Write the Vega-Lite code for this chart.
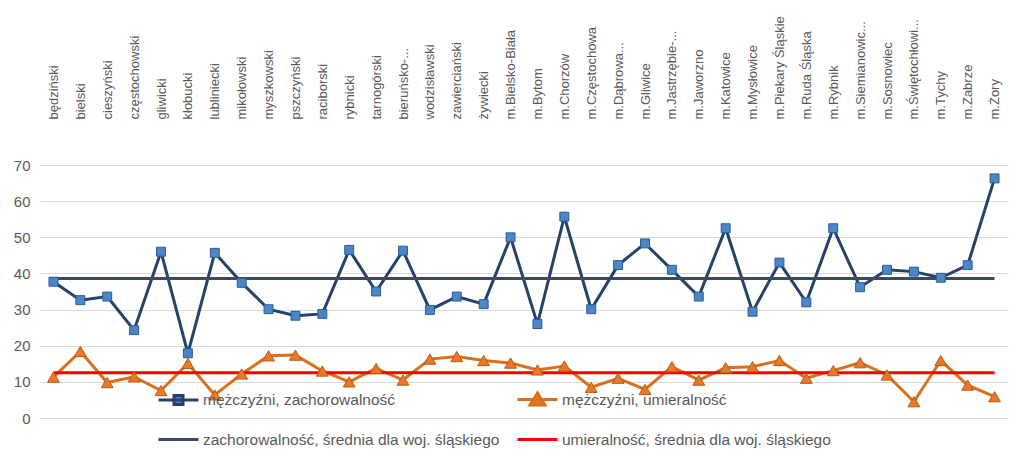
{
  "$schema": "https://vega.github.io/schema/vega-lite/v6.json",
  "width": 968,
  "height": 253,
  "autosize": {"type": "none"},
  "padding": {"left": 40, "top": 165, "right": 16, "bottom": 42},
  "background": "white",
  "config": {
    "view": {"stroke": null},
    "font": "Liberation Sans",
    "axis": {"labelFont": "Liberation Sans", "labelColor": "#595959"},
    "legend": {"labelFont": "Liberation Sans"}
  },
  "data": {
    "values": [
      {"p": "będziński", "s": "mężczyźni, zachorowalność", "v": 37.7},
      {"p": "bielski", "s": "mężczyźni, zachorowalność", "v": 32.6},
      {"p": "cieszyński", "s": "mężczyźni, zachorowalność", "v": 33.6},
      {"p": "częstochowski", "s": "mężczyźni, zachorowalność", "v": 24.3},
      {"p": "gliwicki", "s": "mężczyźni, zachorowalność", "v": 46.0},
      {"p": "kłobucki", "s": "mężczyźni, zachorowalność", "v": 17.9},
      {"p": "lubliniecki", "s": "mężczyźni, zachorowalność", "v": 45.7},
      {"p": "mikołowski", "s": "mężczyźni, zachorowalność", "v": 37.4},
      {"p": "myszkowski", "s": "mężczyźni, zachorowalność", "v": 30.1},
      {"p": "pszczyński", "s": "mężczyźni, zachorowalność", "v": 28.3},
      {"p": "raciborski", "s": "mężczyźni, zachorowalność", "v": 28.8},
      {"p": "rybnicki", "s": "mężczyźni, zachorowalność", "v": 46.5},
      {"p": "tarnogórski", "s": "mężczyźni, zachorowalność", "v": 35.0},
      {"p": "bieruńsko-...", "s": "mężczyźni, zachorowalność", "v": 46.3},
      {"p": "wodzisławski", "s": "mężczyźni, zachorowalność", "v": 29.9},
      {"p": "zawierciański", "s": "mężczyźni, zachorowalność", "v": 33.6},
      {"p": "żywiecki", "s": "mężczyźni, zachorowalność", "v": 31.5},
      {"p": "m.Bielsko-Biała", "s": "mężczyźni, zachorowalność", "v": 50.0},
      {"p": "m.Bytom", "s": "mężczyźni, zachorowalność", "v": 26.0},
      {"p": "m.Chorzów", "s": "mężczyźni, zachorowalność", "v": 55.7},
      {"p": "m.Częstochowa", "s": "mężczyźni, zachorowalność", "v": 30.1},
      {"p": "m.Dąbrowa...", "s": "mężczyźni, zachorowalność", "v": 42.3},
      {"p": "m.Gliwice", "s": "mężczyźni, zachorowalność", "v": 48.3},
      {"p": "m.Jastrzębie-...", "s": "mężczyźni, zachorowalność", "v": 41.0},
      {"p": "m.Jaworzno", "s": "mężczyźni, zachorowalność", "v": 33.6},
      {"p": "m.Katowice", "s": "mężczyźni, zachorowalność", "v": 52.5},
      {"p": "m.Mysłowice", "s": "mężczyźni, zachorowalność", "v": 29.4},
      {"p": "m.Piekary Śląskie", "s": "mężczyźni, zachorowalność", "v": 43.0},
      {"p": "m.Ruda Śląska", "s": "mężczyźni, zachorowalność", "v": 32.0},
      {"p": "m.Rybnik", "s": "mężczyźni, zachorowalność", "v": 52.5},
      {"p": "m.Siemianowic...", "s": "mężczyźni, zachorowalność", "v": 36.2},
      {"p": "m.Sosnowiec", "s": "mężczyźni, zachorowalność", "v": 41.0},
      {"p": "m.Świętochłowi...", "s": "mężczyźni, zachorowalność", "v": 40.5},
      {"p": "m.Tychy", "s": "mężczyźni, zachorowalność", "v": 38.8},
      {"p": "m.Zabrze", "s": "mężczyźni, zachorowalność", "v": 42.3},
      {"p": "m.Żory", "s": "mężczyźni, zachorowalność", "v": 66.3},
      {"p": "będziński", "s": "mężczyźni, umieralność", "v": 11.3},
      {"p": "bielski", "s": "mężczyźni, umieralność", "v": 18.4},
      {"p": "cieszyński", "s": "mężczyźni, umieralność", "v": 9.8},
      {"p": "częstochowski", "s": "mężczyźni, umieralność", "v": 11.4},
      {"p": "gliwicki", "s": "mężczyźni, umieralność", "v": 7.6},
      {"p": "kłobucki", "s": "mężczyźni, umieralność", "v": 15.1},
      {"p": "lubliniecki", "s": "mężczyźni, umieralność", "v": 6.4},
      {"p": "mikołowski", "s": "mężczyźni, umieralność", "v": 12.2},
      {"p": "myszkowski", "s": "mężczyźni, umieralność", "v": 17.2},
      {"p": "pszczyński", "s": "mężczyźni, umieralność", "v": 17.4},
      {"p": "raciborski", "s": "mężczyźni, umieralność", "v": 13.0},
      {"p": "rybnicki", "s": "mężczyźni, umieralność", "v": 10.0},
      {"p": "tarnogórski", "s": "mężczyźni, umieralność", "v": 13.7},
      {"p": "bieruńsko-...", "s": "mężczyźni, umieralność", "v": 10.5},
      {"p": "wodzisławski", "s": "mężczyźni, umieralność", "v": 16.3},
      {"p": "zawierciański", "s": "mężczyźni, umieralność", "v": 17.0},
      {"p": "żywiecki", "s": "mężczyźni, umieralność", "v": 15.9},
      {"p": "m.Bielsko-Biała", "s": "mężczyźni, umieralność", "v": 15.2},
      {"p": "m.Bytom", "s": "mężczyźni, umieralność", "v": 13.3},
      {"p": "m.Chorzów", "s": "mężczyźni, umieralność", "v": 14.4},
      {"p": "m.Częstochowa", "s": "mężczyźni, umieralność", "v": 8.5},
      {"p": "m.Dąbrowa...", "s": "mężczyźni, umieralność", "v": 11.0},
      {"p": "m.Gliwice", "s": "mężczyźni, umieralność", "v": 7.9},
      {"p": "m.Jastrzębie-...", "s": "mężczyźni, umieralność", "v": 14.2},
      {"p": "m.Jaworzno", "s": "mężczyźni, umieralność", "v": 10.5},
      {"p": "m.Katowice", "s": "mężczyźni, umieralność", "v": 13.9},
      {"p": "m.Mysłowice", "s": "mężczyźni, umieralność", "v": 14.2},
      {"p": "m.Piekary Śląskie", "s": "mężczyźni, umieralność", "v": 15.9},
      {"p": "m.Ruda Śląska", "s": "mężczyźni, umieralność", "v": 11.0},
      {"p": "m.Rybnik", "s": "mężczyźni, umieralność", "v": 13.1},
      {"p": "m.Siemianowic...", "s": "mężczyźni, umieralność", "v": 15.3},
      {"p": "m.Sosnowiec", "s": "mężczyźni, umieralność", "v": 11.9},
      {"p": "m.Świętochłowi...", "s": "mężczyźni, umieralność", "v": 4.5},
      {"p": "m.Tychy", "s": "mężczyźni, umieralność", "v": 15.9},
      {"p": "m.Zabrze", "s": "mężczyźni, umieralność", "v": 9.1},
      {"p": "m.Żory", "s": "mężczyźni, umieralność", "v": 5.9},
      {"p": "będziński", "s": "zachorowalność, średnia dla woj. śląskiego", "v": 38.6},
      {"p": "m.Żory", "s": "zachorowalność, średnia dla woj. śląskiego", "v": 38.6},
      {"p": "będziński", "s": "umieralność, średnia dla woj. śląskiego", "v": 12.5},
      {"p": "m.Żory", "s": "umieralność, średnia dla woj. śląskiego", "v": 12.5}
    ]
  },
  "encoding": {
    "x": {
      "field": "p",
      "type": "nominal",
      "sort": null,
      "scale": {"padding": 0.5},
      "axis": {
        "orient": "top",
        "title": null,
        "labelAngle": 270,
        "labelAlign": "left",
        "labelBaseline": "middle",
        "labelPadding": 46,
        "labelFontSize": 13,
        "labelLimit": 200,
        "ticks": false,
        "domain": false,
        "grid": false
      }
    },
    "y": {
      "field": "v",
      "type": "quantitative",
      "scale": {"domain": [0, 70], "nice": false},
      "axis": {
        "title": null,
        "values": [0, 10, 20, 30, 40, 50, 60, 70],
        "grid": true,
        "gridColor": "#D9D9D9",
        "gridWidth": 1,
        "domain": false,
        "ticks": false,
        "labelFontSize": 15,
        "labelPadding": 10
      }
    }
  },
  "layer": [
    {
      "mark": {"type": "line", "strokeWidth": 3},
      "encoding": {
        "color": {
          "field": "s",
          "type": "nominal",
          "scale": {
            "domain": ["mężczyźni, zachorowalność", "mężczyźni, umieralność", "zachorowalność, średnia dla woj. śląskiego", "umieralność, średnia dla woj. śląskiego"],
            "range": ["#24426A", "#D9701E", "#3B4A5E", "#FF0000"]
          },
          "legend": {
            "title": null,
            "orient": "none",
            "direction": "horizontal",
            "legendX": 127,
            "legendY": 223,
            "columns": 2,
            "columnPadding": 11,
            "rowPadding": 17,
            "padding": 0,
            "symbolSize": 400,
            "symbolStrokeWidth": 3,
            "labelOffset": 13,
            "labelFontSize": 15.5,
            "labelColor": "#595959",
            "labelLimit": 400,
            "encode": {
              "symbols": {
                "update": {
                  "shape": {"signal": "datum.value === 'mężczyźni, zachorowalność' ? 'M-2,0H2M-0.45,-0.45H0.45V0.45H-0.45Z' : datum.value === 'mężczyźni, umieralność' ? 'M-2,0H2M0,-0.65L0.75,0.55H-0.75Z' : 'M-2,0H2'"},
                  "fill": {"signal": "datum.value === 'mężczyźni, zachorowalność' ? '#4F81BD' : datum.value === 'mężczyźni, umieralność' ? '#E8792A' : 'transparent'"},
                  "strokeWidth": {"value": 3}
                }
              }
            }
          }
        }
      }
    },
    {
      "transform": [{"filter": "datum.s === 'mężczyźni, zachorowalność'"}],
      "mark": {"type": "point", "shape": "square", "filled": true, "size": 80, "color": "#4A86C8", "stroke": "#2E5C8F", "strokeWidth": 1, "opacity": 1}
    },
    {
      "transform": [{"filter": "datum.s === 'mężczyźni, umieralność'"}],
      "mark": {"type": "point", "shape": "triangle-up", "filled": true, "size": 140, "color": "#E8792A", "stroke": "#C0580F", "strokeWidth": 1, "opacity": 1}
    }
  ]
}
